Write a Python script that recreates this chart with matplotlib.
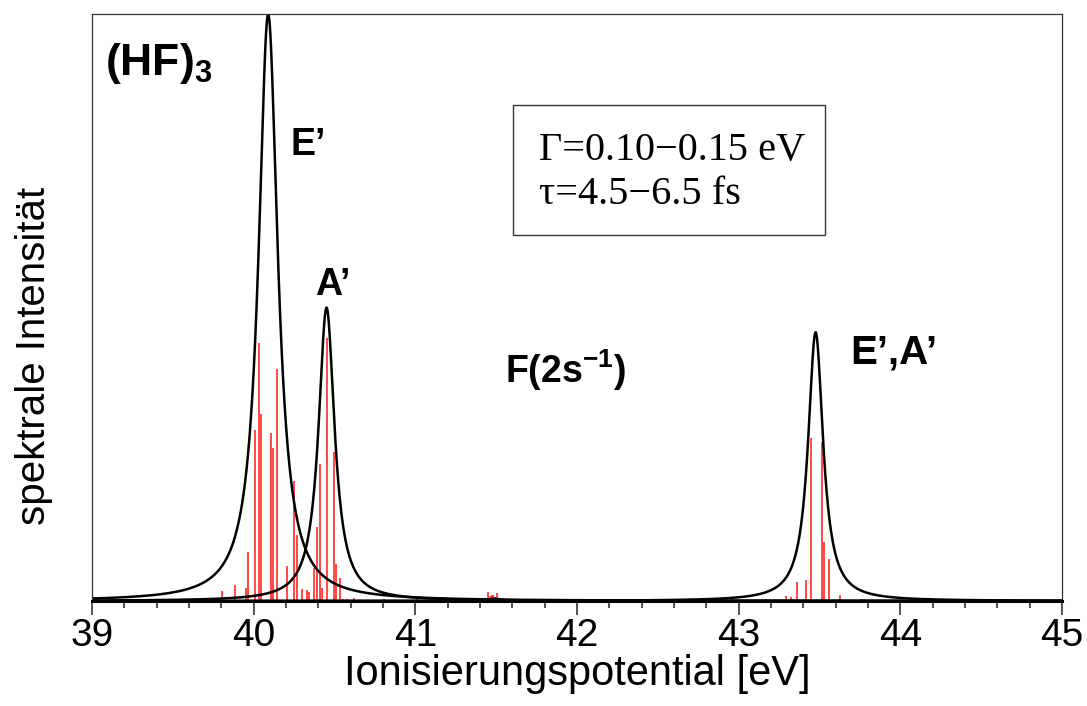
import numpy as np
import matplotlib
matplotlib.use('Agg')
import matplotlib.pyplot as plt
from matplotlib.patches import Rectangle
from matplotlib.ticker import MultipleLocator

plt.rcParams['font.family'] = ['Liberation Sans', 'DejaVu Sans']
plt.rcParams['mathtext.fontset'] = 'custom'
plt.rcParams['mathtext.rm'] = 'Liberation Sans'
plt.rcParams['mathtext.bf'] = 'Liberation Sans:bold'

# Lorentzian envelopes: E', A' and the outer-valence band, plus small F(2s) bump
band_center = [40.090, 40.451, 43.476, 41.49]
band_height = [1.000, 0.500, 0.458, 0.004]
band_fwhm = [0.144, 0.120, 0.113, 0.10]

# pole strengths of the individual ionic states (stick spectrum)
stick_ev = [39.155, 39.173, 39.192,
            39.806, 39.883, 39.951, 39.963, 40.010, 40.035, 40.047,
            40.109, 40.121, 40.144, 40.208, 40.249, 40.266, 40.301,
            40.332, 40.342, 40.371, 40.394, 40.408, 40.423, 40.452,
            40.499, 40.511, 40.532, 40.551, 40.575, 40.621, 40.676,
            40.738, 40.806, 40.887, 41.010,
            41.448, 41.464, 41.476, 41.482, 41.495, 41.507, 41.524,
            42.000, 42.507, 43.167, 43.291, 43.322, 43.359, 43.415,
            43.447, 43.514, 43.530, 43.557, 43.596, 43.627, 43.755,
            43.775, 43.885]
stick_int = [0.002, 0.002, 0.002,
             0.017, 0.027, 0.022, 0.083, 0.291, 0.440, 0.319,
             0.286, 0.261, 0.395, 0.060, 0.204, 0.112, 0.020,
             0.019, 0.015, 0.056, 0.126, 0.233, 0.022, 0.448,
             0.254, 0.063, 0.039, 0.003, 0.003, 0.005, 0.002,
             0.002, 0.003, 0.002, 0.003,
             0.016, 0.009, 0.010, 0.010, 0.007, 0.013, 0.005,
             0.002, 0.002, 0.003, 0.009, 0.007, 0.032, 0.036,
             0.278, 0.271, 0.101, 0.072, 0.002, 0.010, 0.003,
             0.003, 0.002]

fig = plt.figure(figsize=(10.87, 7.06), dpi=100)
ax = fig.add_axes([0.0846, 0.1487, 0.8924, 0.8313])

ax.vlines(stick_ev, 0, stick_int, color='#ff2a2a', lw=1.2)

e = np.linspace(39, 45, 4000)
for c, h, w in zip(band_center, band_height, band_fwhm):
    hw = w / 2
    ax.plot(e, h * hw**2 / ((e - c)**2 + hw**2), color='black', lw=1.8)

ax.set_xlim(39, 45)
ax.set_ylim(0, 1.0)
ax.xaxis.set_major_locator(MultipleLocator(1))
ax.xaxis.set_minor_locator(MultipleLocator(0.2))
ax.set_yticks([])
ax.tick_params(axis='x', which='major', direction='out', length=10, width=1.3,
               color='#444444', labelsize=28, pad=2)
ax.tick_params(axis='x', which='minor', direction='out', length=5, width=1.3,
               color='#444444')
for side in ('left', 'top', 'right'):
    ax.spines[side].set_linewidth(0.9)
    ax.spines[side].set_color('#333333')
ax.spines['bottom'].set_linewidth(2.2)

ax.set_xlabel('Ionisierungspotential [eV]', fontsize=30, labelpad=0)
ax.set_ylabel('spektrale Intensität', fontsize=29)
ax.yaxis.set_label_coords(-0.040, 0.417)

ax.text(39.08, 0.896, r'(HF)$_{\mathbf{3}}$', fontsize=32, fontweight='bold')
ax.text(40.225, 0.760, 'E’', fontsize=27, fontweight='bold')
ax.text(40.379, 0.521, 'A’', fontsize=27, fontweight='bold')
ax.text(41.555, 0.371, r'F(2s$^{\mathbf{-1}}$)', fontsize=27, fontweight='bold')
ax.text(43.689, 0.405, 'E’,A’', fontsize=29, fontweight='bold')

ax.add_patch(Rectangle((41.606, 0.6235), 43.534 - 41.606, 0.845 - 0.6235,
                       fill=False, lw=1.0, ec='#333333'))
ax.text(41.765, 0.752, 'Γ=0.10−0.15 eV', fontsize=29, family='Liberation Serif')
ax.text(41.765, 0.677, 'τ=4.5−6.5 fs', fontsize=29, family='Liberation Serif')

fig.savefig('out.png', dpi=100)
